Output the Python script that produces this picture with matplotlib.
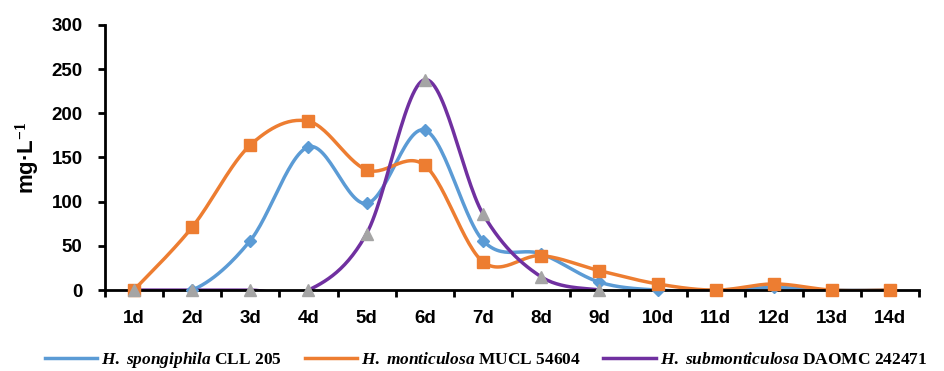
import numpy as np
import matplotlib.pyplot as plt

plt.rcParams['mathtext.fontset'] = 'custom'
plt.rcParams['mathtext.it'] = 'Liberation Serif:italic:bold'
plt.rcParams['mathtext.rm'] = 'Liberation Serif:bold'

days = ['1d', '2d', '3d', '4d', '5d', '6d', '7d', '8d', '9d', '10d', '11d', '12d', '13d', '14d']
spongiphila = [0, 0, 56, 162, 98, 181, 56, 41, 9, 0, 0, 3, 0, 0]
monticulosa = [0, 71, 164, 191, 136, 141, 32, 39, 22, 7, 0, 7, 0, 0]
submonticulosa = [0, 0, 0, 0, 64, 238, 86, 15, 0]

labels = [r'$\mathit{H.}$ $\mathit{spongiphila}$ CLL 205',
          r'$\mathit{H.}$ $\mathit{monticulosa}$ MUCL 54604',
          r'$\mathit{H.}$ $\mathit{submonticulosa}$ DAOMC 242471']


def smooth(y, n=30):
    # catmull-rom curve through the points, like excel's smoothed line
    y = np.asarray(y, float)
    x = np.arange(len(y), dtype=float)
    xp = np.concatenate([[x[0]], x, [x[-1]]])
    yp = np.concatenate([[y[0]], y, [y[-1]]])
    xs, ys = [], []
    t = np.linspace(0, 1, n)
    for i in range(len(y) - 1):
        p0, p1, p2, p3 = [np.array([xp[i + k], yp[i + k]]) for k in range(4)]
        c1 = p1 + (p2 - p0) / 6
        c2 = p2 - (p3 - p1) / 6
        pts = ((1 - t)[:, None] ** 3 * p1 + 3 * ((1 - t) ** 2 * t)[:, None] * c1
               + 3 * ((1 - t) * t ** 2)[:, None] * c2 + (t ** 3)[:, None] * p2)
        xs.append(pts[:, 0])
        ys.append(pts[:, 1])
    return np.concatenate(xs), np.concatenate(ys)


fig = plt.figure(figsize=(9.44, 3.71), dpi=100)
ax = fig.add_axes([0.111, 0.218, 0.863, 0.715])

series = [(spongiphila, '#5B9BD5', '#5B9BD5', 'D', 6.5),
          (monticulosa, '#ED7D31', '#ED7D31', 's', 8.5),
          (submonticulosa, '#7030A0', '#A5A5A5', '^', 9)]

handles = []
for (vals, lc, mc, mk, ms), lab in zip(series, labels):
    sx, sy = smooth(vals)
    h, = ax.plot(sx, sy, color=lc, lw=2.5, label=lab)
    ax.plot(range(len(vals)), vals, ls='none', marker=mk, ms=ms, color=mc, zorder=3, clip_on=False)
    handles.append(h)

ax.set_xlim(-0.5, len(days) - 0.5)
ax.set_ylim(0, 300)
ax.set_yticks(range(0, 301, 50))
ax.set_xticks(range(len(days)))
ax.set_xticklabels(days)
ax.set_xticks(np.arange(-0.5, len(days), 1), minor=True)
ax.tick_params(axis='x', which='major', length=0, pad=14)
ax.tick_params(axis='x', which='minor', length=5, width=2, direction='out')
ax.tick_params(axis='y', length=5, width=2, direction='out', pad=11)
for lab in ax.get_xticklabels() + ax.get_yticklabels():
    lab.set_fontfamily('Liberation Sans')
    lab.set_fontweight('bold')
    lab.set_fontsize(13.5)

for s in ['top', 'right']:
    ax.spines[s].set_visible(False)
for s in ['left', 'bottom']:
    ax.spines[s].set_linewidth(2)

ax.set_ylabel('mg·L$^{-1}$', fontsize=16, fontweight='bold', family=['Liberation Sans', 'DejaVu Sans'], labelpad=7)

fig.legend(handles=handles, loc='lower center', bbox_to_anchor=(0.515, -0.04), ncol=3, frameon=False,
           prop={'family': 'Liberation Serif', 'weight': 'bold', 'size': 12.5},
           handlelength=3.0, columnspacing=1.3, handletextpad=0.25)

fig.savefig('out.png', dpi=100)
